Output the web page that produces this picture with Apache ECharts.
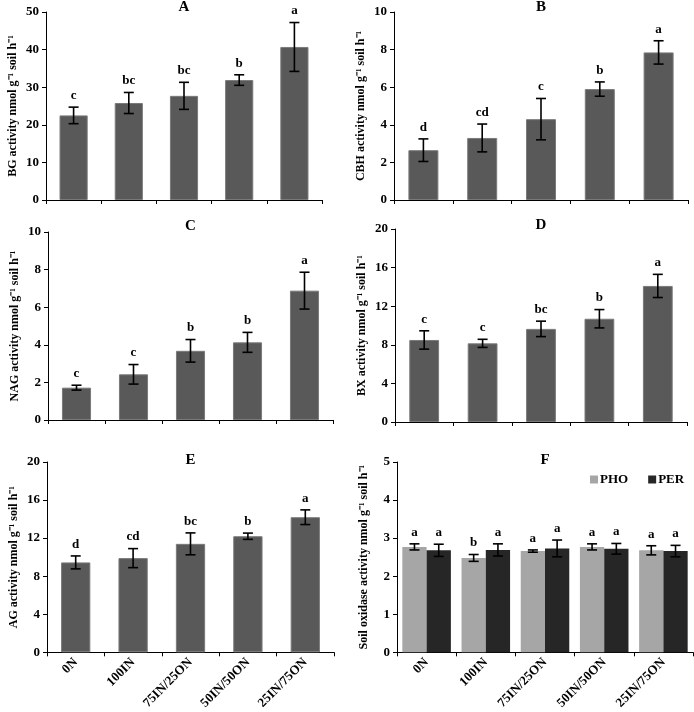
<!DOCTYPE html>
<html>
<head>
<meta charset="utf-8">
<script src="https://cdn.jsdelivr.net/npm/echarts@6/dist/echarts.min.js"></script>
<style>
  html, body { margin: 0; padding: 0; background: #fff; }
  #main { width: 694px; height: 712px; }
</style>
</head>
<body>
<div id="main"></div>
<script>
(function () {
    'use strict';

    var cats = ['0N', '100IN', '75IN/25ON', '50IN/50ON', '25IN/75ON'];

    // A - BG
    var bgMean = [22.5, 25.8, 27.7, 31.9, 40.7];
    var bgErr = [2.2, 2.8, 3.6, 1.4, 6.5];
    var bgSig = ['c', 'bc', 'bc', 'b', 'a'];
    // B - CBH
    var cbhMean = [2.65, 3.3, 4.3, 5.9, 7.85];
    var cbhErr = [0.6, 0.74, 1.1, 0.38, 0.62];
    var cbhSig = ['d', 'cd', 'c', 'b', 'a'];
    // C - NAG
    var nagMean = [1.72, 2.43, 3.68, 4.13, 6.88];
    var nagErr = [0.13, 0.52, 0.6, 0.53, 0.98];
    var nagSig = ['c', 'c', 'b', 'b', 'a'];
    // D - BX
    var bxMean = [8.5, 8.15, 9.65, 10.7, 14.1];
    var bxErr = [0.95, 0.42, 0.8, 0.95, 1.2];
    var bxSig = ['c', 'c', 'bc', 'b', 'a'];
    // E - AG
    var agMean = [9.45, 9.9, 11.4, 12.2, 14.2];
    var agErr = [0.68, 1.0, 1.15, 0.33, 0.77];
    var agSig = ['d', 'cd', 'bc', 'b', 'a'];
    // F - oxidases
    var phoMean = [2.77, 2.48, 2.66, 2.77, 2.68];
    var phoErr = [0.08, 0.09, 0.03, 0.08, 0.12];
    var phoSig = ['a', 'b', 'a', 'a', 'a'];
    var perMean = [2.68, 2.69, 2.73, 2.72, 2.66];
    var perErr = [0.16, 0.16, 0.22, 0.14, 0.15];
    var perSig = ['a', 'a', 'a', 'a', 'a'];

    var FONT = '"Liberation Serif", "Times New Roman", serif';
    var BAR = '#595959';

    var panels = [
        { t: 'A', name: 'BG activity nmol g\u207B\u00B9 soil h\u207B\u00B9', max: 50, step: 10,
          grid: { left: 46, right: 372, top: 12, height: 188 }, ty: 0 },
        { t: 'B', name: 'CBH activity nmol g\u207B\u00B9 soil h\u207B\u00B9', max: 10, step: 2,
          grid: { left: 394, right: 6, top: 12, height: 188 }, ty: 0 },
        { t: 'C', name: 'NAG activity nmol g\u207B\u00B9 soil h\u207B\u00B9', max: 10, step: 2,
          grid: { left: 48, right: 361, top: 232, height: 188 }, ty: 219 },
        { t: 'D', name: 'BX activity nmol g\u207B\u00B9 soil h\u207B\u00B9', max: 20, step: 4,
          grid: { left: 395, right: 7, top: 229, height: 193 }, ty: 218 },
        { t: 'E', name: 'AG activity nmol g\u207B\u00B9 soil h\u207B\u00B9', max: 20, step: 4,
          grid: { left: 47, right: 360, top: 462, height: 200 }, ty: 453 },
        { t: 'F', name: 'Soil oxidase activity nmol g\u207B\u00B9 soil h\u207B\u00B9', max: 5, step: 1,
          grid: { left: 397, right: 1, top: 462, height: 200 }, ty: 453 }
    ];

    function errSeries(gi, means, errs, sig, offset) {
        var data = means.map(function (m, i) { return [i, m, errs[i]]; });
        return {
            type: 'custom',
            xAxisIndex: gi,
            yAxisIndex: gi,
            z: 5,
            silent: true,
            data: data,
            encode: { x: 0, y: 1 },
            renderItem: function (params, api) {
                var i = api.value(0), m = api.value(1), e = api.value(2);
                var top = api.coord([i, m + e]);
                var bot = api.coord([i, m - e]);
                var band = api.size([1, 0])[0];
                var x = top[0] + offset * band;
                var hw = 5;
                var ls = { stroke: '#000', lineWidth: 1.6 };
                return {
                    type: 'group',
                    children: [
                        { type: 'line', shape: { x1: x, y1: top[1], x2: x, y2: bot[1] }, style: ls },
                        { type: 'line', shape: { x1: x - hw, y1: top[1], x2: x + hw, y2: top[1] }, style: ls },
                        { type: 'line', shape: { x1: x - hw, y1: bot[1], x2: x + hw, y2: bot[1] }, style: ls },
                        { type: 'text', style: {
                            text: sig[i], x: x, y: top[1] - 5,
                            textAlign: 'center', textVerticalAlign: 'bottom',
                            align: 'center', verticalAlign: 'bottom',
                            font: 'bold 13px ' + FONT, fill: '#000'
                        } }
                    ]
                };
            }
        };
    }

    var grids = [], xAxes = [], yAxes = [], titles = [], series = [];

    panels.forEach(function (p, gi) {
        grids.push(p.grid);
        var bottomRow = gi >= 4;
        xAxes.push({
            type: 'category',
            gridIndex: gi,
            data: cats,
            axisLine: { lineStyle: { color: '#000', width: 1 } },
            axisTick: { show: true, length: 4, inside: false, lineStyle: { color: '#000' } },
            axisLabel: {
                show: bottomRow, rotate: 45, margin: 8, color: '#000',
                fontFamily: FONT, fontWeight: 'bold', fontSize: 13
            }
        });
        yAxes.push({
            type: 'value',
            gridIndex: gi,
            min: 0, max: p.max, interval: p.step,
            name: p.name,
            nameLocation: 'middle',
            nameGap: 27,
            nameMoveOverlap: false,
            nameTextStyle: { color: '#000', fontFamily: FONT, fontWeight: 'bold', fontSize: 12 },
            axisLine: { show: true, lineStyle: { color: '#000', width: 1 } },
            axisTick: { show: true, length: 4, lineStyle: { color: '#000' } },
            axisLabel: { color: '#000', fontFamily: FONT, fontWeight: 'bold', fontSize: 13, margin: 7 },
            splitLine: { show: false }
        });
        var cx = p.grid.left + (694 - p.grid.right - p.grid.left) / 2;
        titles.push({
            text: p.t,
            left: cx, textAlign: 'center',
            top: p.ty,
            padding: 0,
            textStyle: { color: '#000', fontFamily: FONT, fontWeight: 'bold', fontSize: 15 }
        });
    });

    var single = [
        [bgMean, bgErr, bgSig],
        [cbhMean, cbhErr, cbhSig],
        [nagMean, nagErr, nagSig],
        [bxMean, bxErr, bxSig],
        [agMean, agErr, agSig]
    ];
    single.forEach(function (s, gi) {
        series.push({
            type: 'bar',
            xAxisIndex: gi, yAxisIndex: gi,
            data: s[0],
            barWidth: '51%',
            itemStyle: { color: BAR, borderColor: '#7a7a7a', borderWidth: 1 },
            silent: true
        });
        series.push(errSeries(gi, s[0], s[1], s[2], 0));
    });

    // F: grouped bars
    series.push({
        name: 'PHO', type: 'bar', xAxisIndex: 5, yAxisIndex: 5,
        data: phoMean, barWidth: '41%', barGap: '0%',
        itemStyle: { color: '#a6a6a6' }, silent: true
    });
    series.push({
        name: 'PER', type: 'bar', xAxisIndex: 5, yAxisIndex: 5,
        data: perMean, barWidth: '41%', barGap: '0%',
        itemStyle: { color: '#262626' }, silent: true
    });
    series.push(errSeries(5, phoMean, phoErr, phoSig, -0.205));
    series.push(errSeries(5, perMean, perErr, perSig, 0.205));

    var chart = echarts.init(document.getElementById('main'), null, { renderer: 'canvas' });
    chart.setOption({
        backgroundColor: '#fff',
        animation: false,
        title: titles,
        legend: {
            data: ['PHO', 'PER'],
            orient: 'horizontal',
            left: 590, top: 473, width: 140,
            padding: 0,
            icon: 'rect', itemWidth: 8, itemHeight: 8, itemGap: 20,
            textStyle: { color: '#000', fontFamily: FONT, fontWeight: 'bold', fontSize: 13, padding: [0, 0, 0, -3] }
        },
        grid: grids,
        xAxis: xAxes,
        yAxis: yAxes,
        series: series
    });
})();
</script>
</body>
</html>
